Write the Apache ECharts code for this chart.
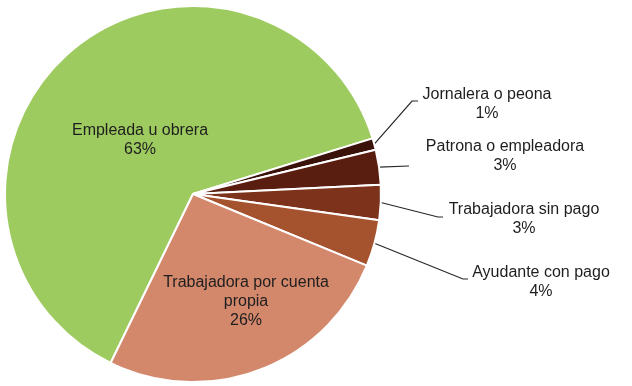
<!DOCTYPE html>
<html><head><meta charset="utf-8">
<script src="https://cdn.jsdelivr.net/npm/echarts@6/dist/echarts.min.js"></script>
<style>html,body{margin:0;padding:0;background:#fff}#c{width:632px;height:386px}</style>
</head><body><div id="c"></div>
<script>
const categories = ['Empleada u obrera','Jornalera o peona','Patrona o empleadora','Trabajadora sin pago','Ayudante con pago','Trabajadora por cuenta\npropia'];
const values = [63,1,3,3,4,26];
const colors = ['#9ECB60','#3A1209','#5A1E10','#7C321B','#A5522F','#D3886C'];
const insideIdx = [0,5];
// label anchor positions (center of text block) and leader line elbows
const labelPos = {0:[140,140],1:[487,104],2:[505,156],3:[524,219],4:[541,282],5:[246,302]};
const elbows = {1:[[412,101],[418,101]],2:[[409,166],[409,166]],3:[[438,217],[443,217]],4:[[463,279],[468,279]]};

const chart = echarts.init(document.getElementById('c'));
chart.setOption({
  animation:false,
  series:[{
    type:'pie',
    center:[193,194],
    radius:[0,188],
    startAngle:244,
    clockwise:true,
    avoidLabelOverlap:false,
    itemStyle:{borderColor:'#fff',borderWidth:2},
    label:{
      show:true,
      formatter:p=>p.name+'\n'+p.value+'%',
      fontFamily:'Liberation Sans, Arial, sans-serif',
      fontSize:16,lineHeight:19,color:'#1e1e1e',align:'center'
    },
    labelLine:{show:true,lineStyle:{color:'#262626',width:1.2}},
    labelLayout:function(p){
      const pos=labelPos[p.dataIndex];
      const r={x:pos[0],y:pos[1],align:'center',verticalAlign:'middle'};
      if(elbows[p.dataIndex] && p.labelLinePoints){
        const e=elbows[p.dataIndex];
        r.labelLinePoints=[p.labelLinePoints[0],e[0],e[1]];
      }
      return r;
    },
    data:categories.map((n,i)=>({
      name:n,value:values[i],
      itemStyle:{color:colors[i]},
      label: insideIdx.includes(i)?{position:'inside'}:{position:'outside'},
      labelLine:{show:!insideIdx.includes(i)}
    }))
  }]
});
</script></body></html>
